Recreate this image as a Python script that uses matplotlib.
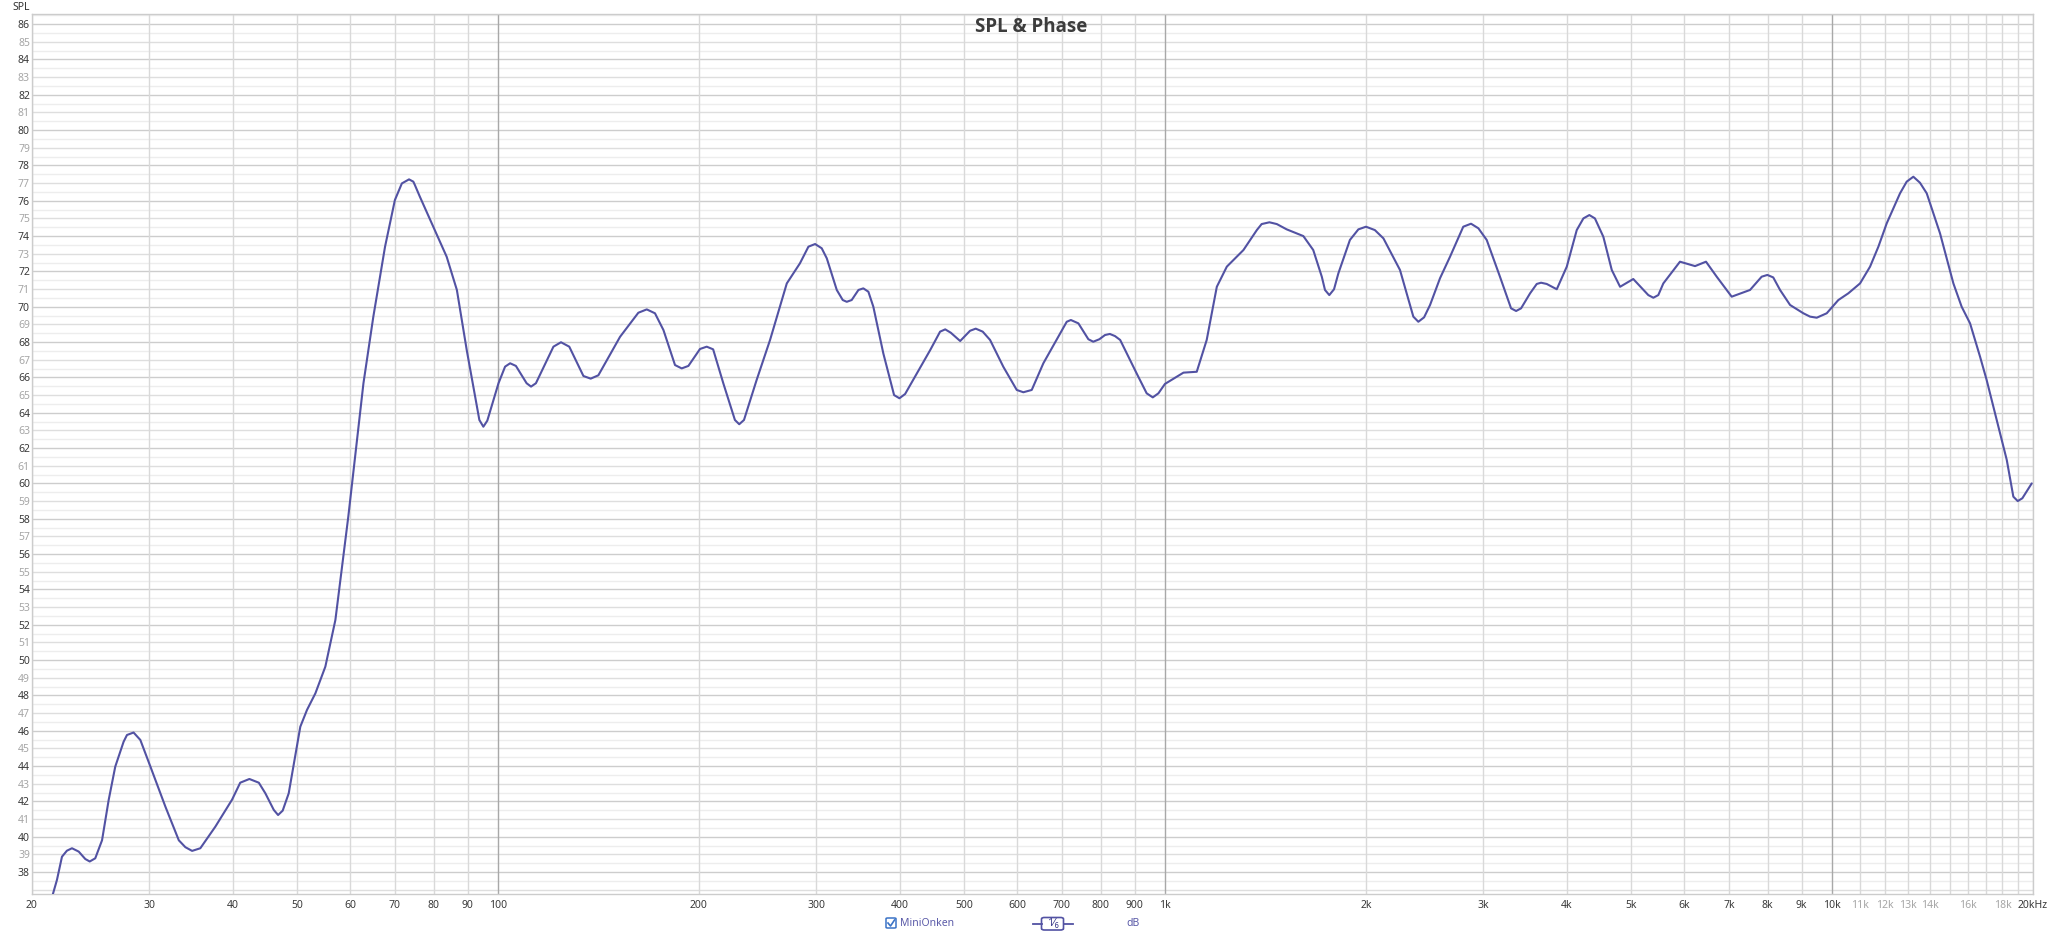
import numpy as np
import matplotlib
matplotlib.use("Agg")
import matplotlib.pyplot as plt
from matplotlib.patches import FancyBboxPatch
from matplotlib.lines import Line2D
from matplotlib.ticker import NullLocator, NullFormatter

plt.rcParams['font.family'] = ['Noto Sans', 'DejaVu Sans']

# ---------------- data ----------------
title = "SPL & Phase"
series_name = "MiniOnken"
y_label = "SPL"
unit_label = "dB"
smoothing_label = "1\u2044\u2086"

freq_hz = [21.4, 21.8, 22.18, 22.56, 22.96, 23.5, 24.04, 24.41, 24.88, 25.47, 26.06,
           26.66, 27.44, 27.76, 28.40, 29.07, 30.1, 31.7, 33.2, 33.96, 34.76, 35.76,
           37.66, 39.9, 41.04, 42.36, 43.76, 44.76, 46.08, 46.77, 47.52, 48.52,
           50.5, 51.68, 53.2, 55.06, 57.0, 59.6, 62.8, 64.98, 67.66, 70.0, 71.7,
           72.5, 73.5, 74.6, 75.0, 76.3, 79.9, 83.7, 86.7, 89.7, 93.7, 95.0, 96.3,
           100.1, 102.4, 104.2, 106.3, 110.3, 112.0, 113.9, 121.0, 124.2, 127.8,
           134.2, 137.6, 141.3, 152.3, 162.2, 167.0, 171.8, 176.9, 184.1, 188.4,
           192.8, 200.7, 205.4, 210.0, 217.5, 226.4, 229.8, 233.6, 244.0, 255.6,
           270.8, 283.4, 291.8, 298.6, 305.5, 310.9, 321.8, 328.5, 333.1, 338.8,
           346.8, 352.7, 358.9, 365.1, 377.9, 392.2, 399.5, 407.4, 424.3, 444.3,
           459.7, 467.9, 477.0, 492.7, 509.8, 519.9, 532.6, 546.3, 571.9, 599,
           612.8, 630.8, 656.6, 711.8, 722, 741, 767, 780, 796.6, 812.4, 826,
           840.8, 856, 906, 938, 958, 976.8, 999, 1065, 1115, 1154, 1195, 1237,
           1310, 1372, 1395, 1433, 1470, 1521, 1611, 1667, 1717, 1736, 1762, 1791,
           1818, 1892, 1948, 2000, 2062, 2124, 2249, 2355, 2396, 2444, 2495, 2582,
           2673, 2798, 2874, 2948, 3034, 3176, 3300, 3358, 3416, 3524, 3606, 3660,
           3732, 3864, 4000, 4140, 4236, 4324, 4408, 4538, 4672, 4808, 5032, 5300,
           5393, 5486, 5582, 5912, 6228, 6468, 6712, 7068, 7530, 7838, 7994, 8158,
           8352, 8646, 9052, 9264, 9480, 9812, 10214, 10572, 11008, 11396, 11728,
           12070, 12638, 12932, 13232, 13538, 13858, 14510, 14846, 15194, 15634,
           16094, 16660, 17044, 17442, 17846, 18268, 18688, 18974, 19278, 19912]
spl_db = [36.5, 37.56, 38.87, 39.21, 39.35, 39.16, 38.74, 38.6, 38.78, 39.8, 42.08,
          43.97, 45.38, 45.76, 45.9, 45.48, 43.97, 41.7, 39.8, 39.41, 39.2, 39.35,
          40.57, 42.1, 43.06, 43.27, 43.06, 42.46, 41.52, 41.23, 41.48, 42.46,
          46.23, 47.18, 48.12, 49.63, 52.27, 58.12, 65.67, 69.44, 73.4, 76.04, 76.98,
          77.08, 77.21, 77.08, 76.89, 76.23, 74.53, 72.83, 70.95, 67.55, 63.59, 63.21, 63.55,
          65.67, 66.61, 66.8, 66.65, 65.67, 65.48, 65.67, 67.74, 67.99, 67.74,
          66.08, 65.93, 66.12, 68.3, 69.66, 69.85, 69.63, 68.68, 66.7, 66.51,
          66.65, 67.61, 67.74, 67.59, 65.67, 63.59, 63.35, 63.59, 65.85, 68.12,
          71.32, 72.46, 73.4, 73.55, 73.31, 72.74, 70.95, 70.38, 70.28, 70.38,
          70.95, 71.04, 70.85, 70.0, 67.36, 65.0, 64.82, 65.06, 66.23, 67.55,
          68.59, 68.72, 68.53, 68.06, 68.64, 68.76, 68.59, 68.12, 66.6, 65.29,
          65.16, 65.29, 66.8, 69.15, 69.25, 69.06, 68.16, 68.02, 68.16, 68.4, 68.46,
          68.34, 68.12, 66.23, 65.1, 64.87, 65.1, 65.63, 66.27, 66.32, 68.12, 71.13, 72.27,
          73.21, 74.34, 74.68, 74.78, 74.68, 74.38, 74.0, 73.21, 71.7, 70.95, 70.66, 70.99,
          71.89, 73.78, 74.38, 74.53, 74.34, 73.87, 72.08, 69.44, 69.15, 69.4, 70.1, 71.61,
          72.83, 74.53, 74.7, 74.44, 73.78, 71.7, 69.91, 69.76, 69.91, 70.76, 71.29, 71.36,
          71.29, 70.99, 72.27, 74.34, 75.0, 75.19, 75.0, 73.96, 72.08, 71.13, 71.57, 70.66,
          70.51, 70.66, 71.32, 72.55, 72.3, 72.55, 71.7, 70.57, 70.95, 71.7, 71.8, 71.66,
          70.95, 70.1, 69.63, 69.44, 69.38, 69.63, 70.38, 70.76, 71.32, 72.27, 73.4,
          74.72, 76.42, 77.08, 77.36, 77.02, 76.42, 74.15, 72.74, 71.32, 70.0,
          69.06, 67.17, 65.85, 64.34, 62.84, 61.33, 59.25, 59.0, 59.16, 60.0]

y_ticks = list(range(38, 87))
x_tick_values = [20, 30, 40, 50, 60, 70, 80, 90, 100, 200, 300, 400, 500, 600, 700,
                 800, 900, 1000, 2000, 3000, 4000, 5000, 6000, 7000, 8000, 9000,
                 10000, 11000, 12000, 13000, 14000, 16000, 18000, 20000]
x_tick_labels = ["20", "30", "40", "50", "60", "70", "80", "90", "100", "200", "300",
                 "400", "500", "600", "700", "800", "900", "1k", "2k", "3k", "4k",
                 "5k", "6k", "7k", "8k", "9k", "10k", "11k", "12k", "13k", "14k",
                 "16k", "18k", "20kHz"]
light_x_labels = ["11k", "12k", "13k", "14k", "16k", "18k"]

# ---------------- layout ----------------
W, H = 2048, 936
fig = plt.figure(figsize=(W / 100, H / 100), dpi=100)
fig.patch.set_facecolor('white')
L_px, R_px, T_px, B_px = 32, 2033, 14, 894
ax = fig.add_axes([L_px / W, 1 - B_px / H, (R_px - L_px) / W, (B_px - T_px) / H])
ax.set_xscale('log')
ax.set_xlim(20, 20000)
ax.set_ylim(36.76, 86.57)

# grid
vgrid = list(range(20, 100, 10)) + list(range(100, 1000, 100)) + \
        list(range(1000, 10000, 1000)) + list(range(10000, 20001, 1000))
for v in vgrid:
    dark = v in (100, 1000, 10000)
    ax.axvline(v, color='#a8a8a8' if dark else '#d9d9d9', lw=1.0, zorder=0.5 if dark else 0.4)
for h in np.arange(37.0, 86.6, 0.5):
    if abs(h - round(h)) > 0.1:
        c, z = '#ededed', 0.1
    elif int(round(h)) % 2 == 0:
        c, z = '#cdcdcd', 0.3
    else:
        c, z = '#dedede', 0.2
    ax.axhline(h, color=c, lw=1.0, zorder=z)

for s in ax.spines.values():
    s.set_color('#cccccc')
    s.set_linewidth(1.0)

ax.plot(freq_hz, spl_db, color='#5252a3', lw=1.5, solid_joinstyle='round',
        solid_capstyle='round', zorder=3)

# ticks
ax.xaxis.set_minor_locator(NullLocator())
ax.xaxis.set_minor_formatter(NullFormatter())
ax.set_xticks(x_tick_values)
ax.set_xticklabels(x_tick_labels)
ax.set_yticks(y_ticks)
ax.set_yticklabels([str(t) for t in y_ticks])
ax.tick_params(axis='both', length=0, labelsize=7.5)
ax.tick_params(axis='y', pad=1.5)
ax.tick_params(axis='x', pad=4)
for lab in ax.get_xticklabels():
    lab.set_color('#a6a6a6' if lab.get_text() in light_x_labels else '#3a3a3a')
for lab, t in zip(ax.get_yticklabels(), y_ticks):
    lab.set_color('#3a3a3a' if t % 2 == 0 else '#a6a6a6')

# texts
fig.text(1031 / W, 1 - 27.5 / H, title, ha='center', va='center', fontsize=13.5,
         fontweight='bold', family=['Open Sans', 'DejaVu Sans'], color='#3c3c3c')
fig.text(21 / W, 1 - 7.5 / H, y_label, ha='center', va='center', fontsize=7.5,
         color='#333333')

# legend (bottom)
def fx(px):
    return px / W

def fy(py):
    return 1 - py / H

fig.add_artist(FancyBboxPatch((fx(886), fy(928)), fx(10), 10 / H,
                              boxstyle='round,pad=0,rounding_size=0.0008',
                              fc='white', ec='#3b73c6', lw=1.1, transform=fig.transFigure))
fig.add_artist(Line2D([fx(888), fx(890.5), fx(894.5)], [fy(923), fy(926), fy(920)],
                      color='#3b73c6', lw=1.2, transform=fig.transFigure))
fig.text(fx(900), fy(923.5), series_name, ha='left', va='center', fontsize=7.5,
         color='#5a5aa8')
fig.add_artist(Line2D([fx(1032.5), fx(1041.5)], [fy(924), fy(924)], color='#5252a3',
                      lw=1.3, transform=fig.transFigure))
fig.add_artist(Line2D([fx(1063.5), fx(1072.5)], [fy(924), fy(924)], color='#5252a3',
                      lw=1.3, transform=fig.transFigure))
fig.add_artist(FancyBboxPatch((fx(1041.5), fy(930)), fx(22), 12.5 / H,
                              boxstyle='round,pad=0,rounding_size=0.0015',
                              fc='white', ec='#5252a3', lw=1.2, transform=fig.transFigure))
fig.text(fx(1052.5), fy(924), smoothing_label, ha='center', va='center', fontsize=8,
         color='#3c3c8c')
fig.text(fx(1133), fy(923.5), unit_label, ha='center', va='center', fontsize=7.5,
         color='#5a5aa8')

fig.savefig('out.png', dpi=100, facecolor='white')
